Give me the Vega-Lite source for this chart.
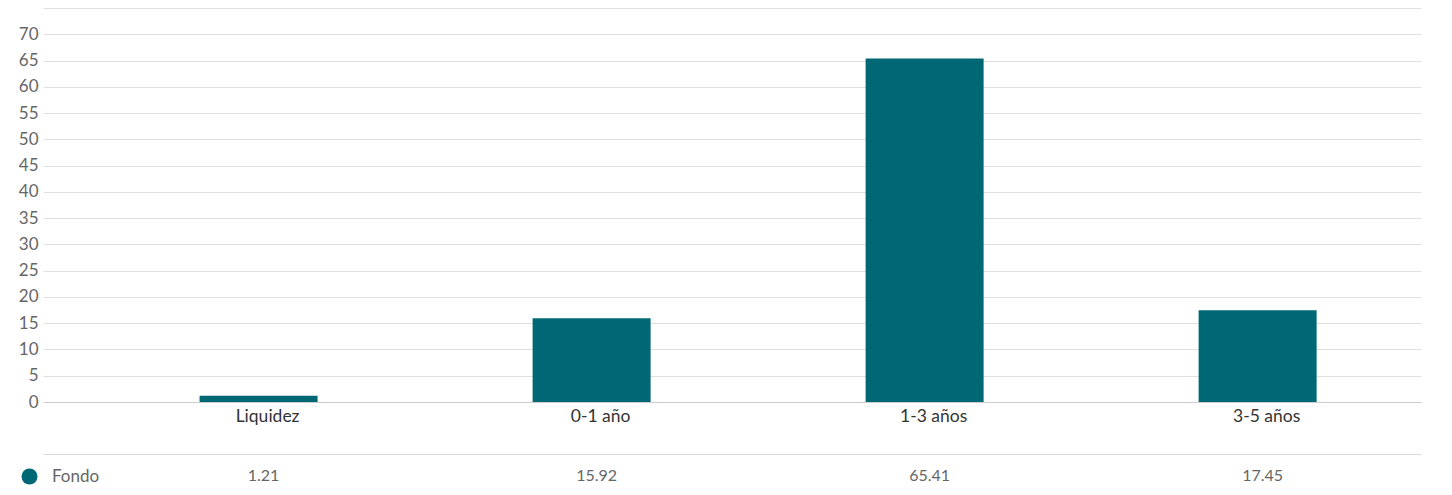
{
  "$schema": "https://vega.github.io/schema/vega-lite/v6.json",
  "padding": {"left": 18, "top": 8, "right": 30, "bottom": 0},
  "background": "white",
  "config": {
    "view": {"stroke": null},
    "font": "Lato",
    "concat": {"spacing": 52}
  },
  "bounds": "flush",
  "data": {
    "values": [
      {"cat": "Liquidez", "serie": "Fondo", "valor": 1.21, "txt": "1.21"},
      {"cat": "0-1 año", "serie": "Fondo", "valor": 15.92, "txt": "15.92"},
      {"cat": "1-3 años", "serie": "Fondo", "valor": 65.41, "txt": "65.41"},
      {"cat": "3-5 años", "serie": "Fondo", "valor": 17.45, "txt": "17.45"}
    ]
  },
  "resolve": {"scale": {"x": "independent"}},
  "vconcat": [
    {
      "width": 1378,
      "height": 394,
      "mark": {"type": "bar", "width": 118},
      "encoding": {
        "x": {
          "field": "cat", "type": "nominal", "sort": null,
          "scale": {"type": "band", "paddingInner": 0.646, "paddingOuter": 0.392, "align": 0.6},
          "axis": {
            "title": null, "labelAngle": 0, "ticks": false,
            "domainColor": "#cccccc", "labelFontSize": 17.5, "labelColor": "#333333",
            "labelPadding": 5, "labelOffset": 9
          }
        },
        "y": {
          "field": "valor", "type": "quantitative",
          "scale": {"domain": [0, 75], "nice": false},
          "axis": {
            "title": null, "values": [0,5,10,15,20,25,30,35,40,45,50,55,60,65,70,75],
            "labelExpr": "datum.value == 75 ? '' : datum.label",
            "domain": false, "ticks": false, "gridColor": "#e0e0e0",
            "labelFontSize": 17, "labelColor": "#666666", "labelPadding": 5
          }
        },
        "color": {
          "field": "serie", "type": "nominal",
          "scale": {"range": ["#006874"]},
          "legend": {
            "title": null, "orient": "none", "legendX": -22, "legendY": 460,
            "symbolType": "circle", "symbolSize": 256, "symbolStrokeWidth": 0,
            "labelFontSize": 17, "labelColor": "#666666", "labelOffset": 14
          }
        }
      }
    },
    {
      "width": 1378,
      "height": 44,
      "mark": {"type": "text", "fontSize": 16, "color": "#666666", "dx": 5},
      "encoding": {
        "x": {
          "field": "cat", "type": "nominal", "sort": null,
          "scale": {"type": "band", "paddingInner": 0.646, "paddingOuter": 0.392, "align": 0.6},
          "axis": {
            "title": null, "orient": "top", "labels": false, "ticks": false,
            "domainColor": "#d9d9d9", "grid": false
          }
        },
        "text": {"field": "txt"}
      }
    }
  ]
}
